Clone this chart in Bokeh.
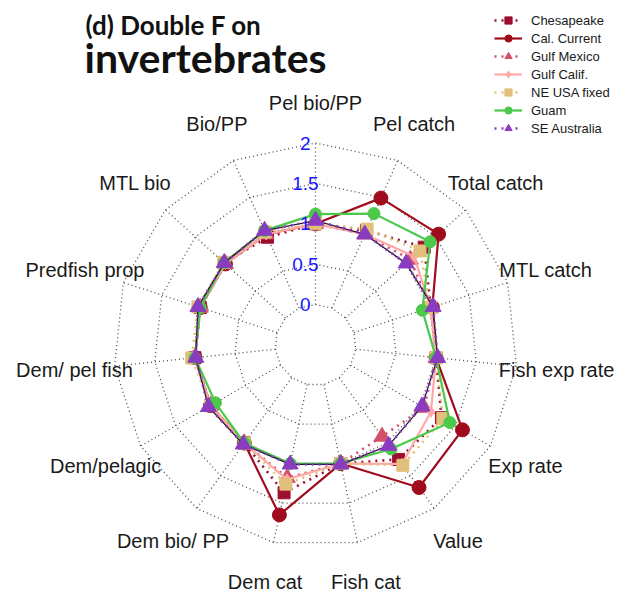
import numpy as np
from bokeh.plotting import figure
from bokeh.models import Range1d, Legend, LegendItem, Label
from bokeh.core.properties import value
from bokeh.embed import file_html
from bokeh.resources import INLINE

# ---------------- data ----------------
axis_labels = ["Pel bio/PP", "Pel catch", "Total catch", "MTL catch", "Fish exp rate",
               "Exp rate", "Value", "Fish cat", "Dem cat", "Dem bio/ PP",
               "Dem/pelagic", "Dem/ pel fish", "Predfish prop", "MTL bio", "Bio/PP"]

series_names = ["Chesapeake", "Cal. Current", "Gulf Mexico", "Gulf Calif.",
                "NE USA fixed", "Guam", "SE Australia"]

chesapeake   = [1.00, 1.05, 1.31, 1.00, 1.00, 1.30, 1.25, 1.00, 1.37, 1.00, 1.00, 1.00, 1.00, 1.02, 0.96]
cal_current  = [1.00, 1.49, 1.55, 1.02, 1.00, 1.60, 1.68, 1.00, 1.65, 1.00, 1.00, 1.00, 1.00, 1.00, 1.00]
gulf_mexico  = [1.00, 1.00, 1.08, 1.00, 1.00, 1.05, 0.90, 1.00, 1.18, 1.00, 1.00, 1.00, 1.00, 1.00, 1.00]
gulf_calif   = [1.00, 1.00, 1.14, 1.00, 1.00, 1.15, 1.32, 1.00, 1.20, 1.00, 1.00, 1.00, 1.00, 1.00, 1.00]
ne_usa_fixed = [1.00, 1.07, 1.24, 1.00, 1.00, 1.32, 1.34, 1.00, 1.26, 1.00, 1.00, 1.04, 1.03, 1.03, 1.03]
guam         = [1.12, 1.28, 1.41, 0.89, 1.00, 1.42, 1.09, 1.00, 1.00, 1.00, 0.93, 1.00, 1.00, 1.02, 1.05]
se_australia = [1.04, 1.00, 1.01, 1.03, 1.02, 1.02, 1.04, 1.01, 1.01, 1.02, 1.03, 0.99, 1.03, 1.02, 1.05]

tick_values = [0, 0.5, 1, 1.5, 2]
tick_labels = ["0", "0.5", "1", "1.5", "2"]

series_values = [chesapeake, cal_current, gulf_mexico, gulf_calif, ne_usa_fixed, guam, se_australia]
series_colors = ["#9b1030", "#a00c1c", "#d2506a", "#ffa8a8", "#e2c07c", "#4cc84a", "#8a3cc0"]
series_markers = ["square", "circle", "triangle", "diamond", "square", "circle", "triangle"]
series_sizes = [12, 14, 16, 11, 12, 12, 16]
series_dashes = ["2 5", "solid", "2 5", "solid", "2 5", "solid", "2 5"]
series_widths = [2.6, 2.2, 2.6, 2.2, 2.6, 2.2, 2.6]

# ---------------- geometry ----------------
n = len(axis_labels)
vmin, vmax = tick_values[0], tick_values[-1]
gap = tick_values[1] - tick_values[0]
theta = np.pi / 2 - 2 * np.pi * np.arange(n) / n


def rad(v):
    return (np.asarray(v, dtype=float) - vmin + gap) / (vmax - vmin + gap)


W, H = 620, 593
R = 202.0
cx, cy = 315.0, 344.5          # centre, in pixels from the top-left of the figure
p = figure(width=W, height=H, output_backend="svg", toolbar_location=None,
           x_range=Range1d(-cx / R, (W - cx) / R), y_range=Range1d(-(H - cy) / R, cy / R),
           x_axis_type=None, y_axis_type=None, min_border=0,
           outline_line_color=None, background_fill_color="white")
p.xgrid.visible = False
p.ygrid.visible = False

grid_col = "#4a4a4a"
# rings
ring_xs, ring_ys = [], []
for t in tick_values:
    r = rad(t)
    ring_xs.append(list(np.append(r * np.cos(theta), r * np.cos(theta[0]))))
    ring_ys.append(list(np.append(r * np.sin(theta), r * np.sin(theta[0]))))
p.multi_line(ring_xs, ring_ys, line_color=grid_col, line_width=1.3, line_dash="1 3")
# spokes
r0, r1 = rad(vmin), rad(vmax)
p.multi_line([[r0 * np.cos(a), r1 * np.cos(a)] for a in theta],
             [[r0 * np.sin(a), r1 * np.sin(a)] for a in theta],
             line_color=grid_col, line_width=1.3, line_dash="1 3")

# axis labels
p.text(x=1.2 * np.cos(theta), y=1.2 * np.sin(theta), text=axis_labels,
       text_align="center", text_baseline="middle", text_color="#1a1a1a",
       text_font=value("Liberation Sans"), text_font_size="20px")

# series
items = []
for name, vals, col, mk, sz, dash, lw in zip(series_names, series_values, series_colors,
                                             series_markers, series_sizes, series_dashes,
                                             series_widths):
    r = rad(vals)
    xs = r * np.cos(theta)
    ys = r * np.sin(theta)
    rs = []
    if name == "SE Australia":
        p.line(np.append(xs, xs[0]), np.append(ys, ys[0]), line_color="#2b1838", line_width=1.3)
    rs.append(p.line(np.append(xs, xs[0]), np.append(ys, ys[0]), line_color=col,
                     line_width=lw, line_dash=dash))
    rs.append(p.scatter(xs, ys, marker=mk, size=sz, fill_color=col, line_color=col))
    items.append(LegendItem(label=name, renderers=rs))

# tick labels on the vertical axis
p.text(x=[-0.05] * len(tick_values), y=rad(tick_values), text=tick_labels,
       text_align="center", text_baseline="middle", text_color="#1414ff",
       text_font=value("Liberation Sans"), text_font_size="19px")

legend = Legend(items=items, location=(494, 456), orientation="vertical",
                label_text_font="Liberation Sans", label_text_font_size="13px",
                label_text_color="#1a1a1a", glyph_width=28, glyph_height=18,
                label_height=14, spacing=0, padding=0, margin=0, label_standoff=9,
                border_line_color=None, background_fill_alpha=0)
p.add_layout(legend, "center")

# title
p.add_layout(Label(x=85, y=H - 24, x_units="screen", y_units="screen", text="(d) Double F on",
                   text_font="Lato", text_font_style="bold", text_font_size="26px",
                   text_color="#111111", text_baseline="alphabetic"))
p.add_layout(Label(x=84, y=H - 57, x_units="screen", y_units="screen", text="invertebrates",
                   text_font="Lato", text_font_style="bold", text_font_size="41px",
                   text_color="#111111", text_baseline="alphabetic"))

open("out.html", "w").write(file_html(p, INLINE))
